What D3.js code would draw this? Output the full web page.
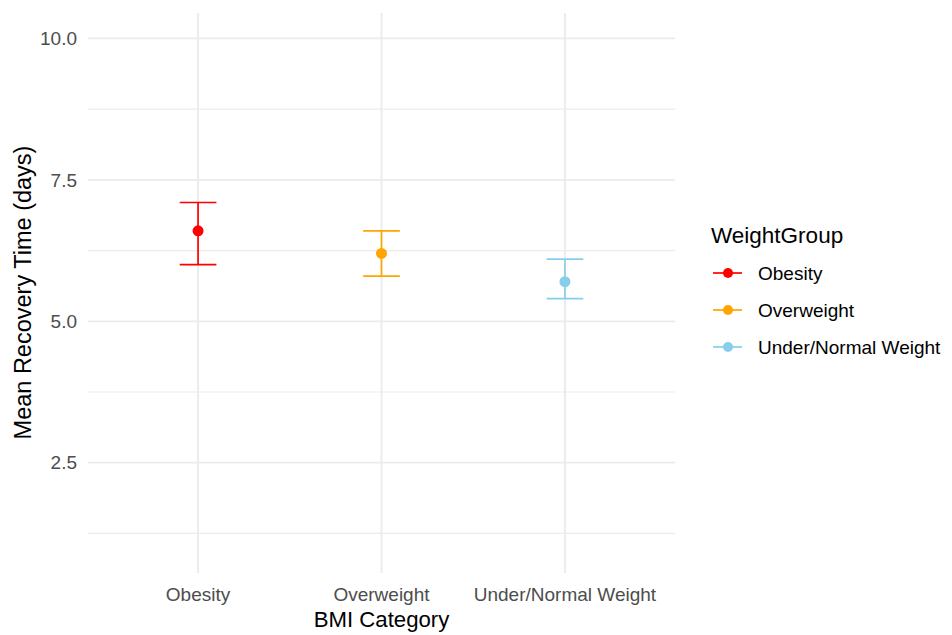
<!DOCTYPE html>
<html>
<head>
<meta charset="utf-8">
<script src="https://cdn.jsdelivr.net/npm/d3@7/dist/d3.min.js"></script>
<style>
  html, body { margin: 0; padding: 0; background: #ffffff; }
  svg { display: block; font-family: "Liberation Sans", Arial, sans-serif; }
</style>
</head>
<body>
<svg id="chart" width="952" height="635"></svg>
<script>
// Mean recovery time by BMI category, with error bars
const categories = ["Obesity", "Overweight", "Under/Normal Weight"];
const means = [6.6, 6.2, 5.7];
const lower = [6.0, 5.8, 5.4];
const upper = [7.1, 6.6, 6.1];
const colors = ["#FF0000", "#FFA500", "#87CEEB"];
const yMajorTicks = [2.5, 5.0, 7.5, 10.0];
const yMinorTicks = [1.25, 3.75, 6.25, 8.75];

const svg = d3.select("#chart");
const panel = { left: 88, right: 675, top: 13, bottom: 573 };

// discrete x scale with ggplot-style 0.6 expansion on each side
const xIdx = d3.scaleLinear().domain([0.4, 3.6]).range([panel.left, panel.right]);
const x = c => xIdx(categories.indexOf(c) + 1);
const y = d3.scaleLinear().domain([0.55, 10.45]).range([panel.bottom, panel.top]);

const grid = svg.append("g");
grid.selectAll(".ymin").data(yMinorTicks).join("line")
  .attr("x1", panel.left).attr("x2", panel.right)
  .attr("y1", d => y(d)).attr("y2", d => y(d))
  .attr("stroke", "#EBEBEB").attr("stroke-width", 1.2);
grid.selectAll(".ymaj").data(yMajorTicks).join("line")
  .attr("x1", panel.left).attr("x2", panel.right)
  .attr("y1", d => y(d)).attr("y2", d => y(d))
  .attr("stroke", "#EBEBEB").attr("stroke-width", 1.8);
grid.selectAll(".xmaj").data(categories).join("line")
  .attr("x1", d => x(d)).attr("x2", d => x(d))
  .attr("y1", panel.top).attr("y2", panel.bottom)
  .attr("stroke", "#EBEBEB").attr("stroke-width", 1.8);

// y axis labels
svg.append("g").selectAll("text").data(yMajorTicks).join("text")
  .attr("x", 77).attr("y", d => y(d))
  .attr("dy", "0.35em").attr("text-anchor", "end")
  .attr("fill", "#4D4D4D").attr("font-size", 19)
  .text(d => d3.format(".1f")(d));

// x axis labels
svg.append("g").selectAll("text").data(categories).join("text")
  .attr("x", d => x(d)).attr("y", 601)
  .attr("text-anchor", "middle")
  .attr("fill", "#4D4D4D").attr("font-size", 19)
  .text(d => d);

// axis titles
svg.append("text")
  .attr("x", xIdx(2)).attr("y", 627)
  .attr("text-anchor", "middle").attr("fill", "#000").attr("font-size", 22.2)
  .text("BMI Category");
svg.append("text")
  .attr("transform", `translate(31,292.5) rotate(-90)`)
  .attr("text-anchor", "middle").attr("fill", "#000").attr("font-size", 23.5)
  .text("Mean Recovery Time (days)");

// error bars and points
const rows = categories.map((c, i) => ({ c, m: means[i], lo: lower[i], hi: upper[i], col: colors[i] }));
const capHalf = (xIdx(1.1) - xIdx(1.0));
const marks = svg.append("g");
rows.forEach(r => {
  const g = marks.append("g").attr("stroke", r.col).attr("stroke-width", 1.7);
  g.append("line").attr("x1", x(r.c)).attr("x2", x(r.c)).attr("y1", y(r.lo)).attr("y2", y(r.hi));
  g.append("line").attr("x1", x(r.c) - capHalf).attr("x2", x(r.c) + capHalf).attr("y1", y(r.lo)).attr("y2", y(r.lo));
  g.append("line").attr("x1", x(r.c) - capHalf).attr("x2", x(r.c) + capHalf).attr("y1", y(r.hi)).attr("y2", y(r.hi));
  marks.append("circle").attr("cx", x(r.c)).attr("cy", y(r.m)).attr("r", 5.5).attr("fill", r.col);
});

// legend
const legend = svg.append("g").attr("transform", "translate(711,0)");
legend.append("text").attr("x", 0).attr("y", 243)
  .attr("fill", "#000").attr("font-size", 22.5).text("WeightGroup");
const itemY = [273, 310, 347];
rows.forEach((r, i) => {
  const gy = itemY[i];
  legend.append("line").attr("x1", 2).attr("x2", 31).attr("y1", gy).attr("y2", gy)
    .attr("stroke", r.col).attr("stroke-width", 1.7);
  legend.append("circle").attr("cx", 17).attr("cy", gy).attr("r", 5).attr("fill", r.col);
  legend.append("text").attr("x", 47).attr("y", gy).attr("dy", "0.35em")
    .attr("fill", "#000").attr("font-size", 19).text(r.c);
});
</script>
</body>
</html>
